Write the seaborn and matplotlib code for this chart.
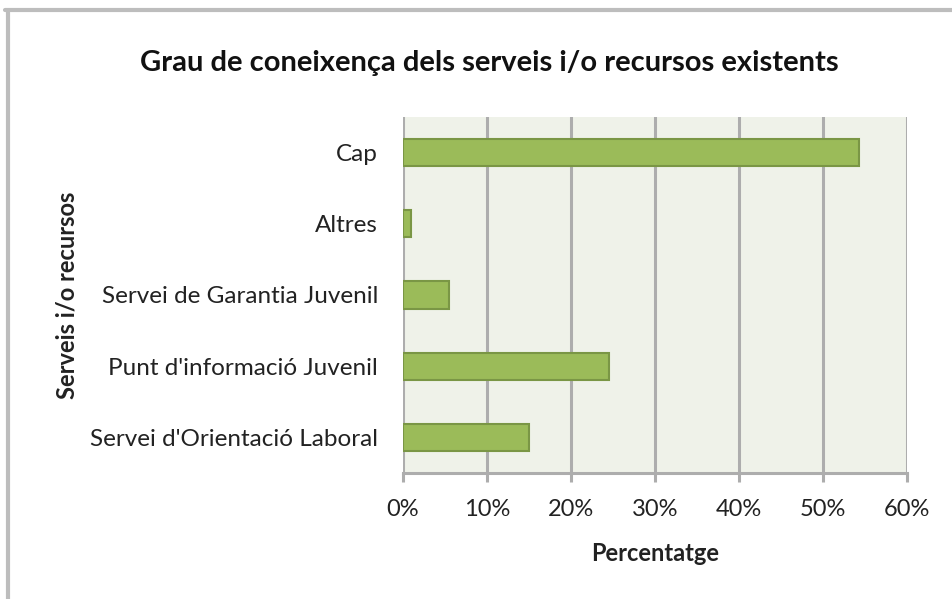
import pandas as pd
import numpy as np
import seaborn as sns
import matplotlib.pyplot as plt
from matplotlib.lines import Line2D
from matplotlib.ticker import PercentFormatter

# data (percent)
categories = [
    'Cap',
    'Altres',
    'Servei de Garantia Juvenil',
    "Punt d'informació Juvenil",
    "Servei d'Orientació Laboral",
]
values = [54.3, 1.0, 5.5, 24.5, 15.0]

df = pd.DataFrame({'servei': categories, 'pct': values})

sns.set_theme(style='white')
plt.rcParams['font.family'] = ['Lato', 'DejaVu Sans']

fig = plt.figure(figsize=(9.52, 5.99), dpi=100)
ax = fig.add_axes([403/952, 1-473/599, (907-403)/952, (473-117)/599])

sns.barplot(data=df, x='pct', y='servei', orient='h', order=categories,
            color='#9BBB59', edgecolor='#7A9645', linewidth=1.5,
            width=0.38, saturation=1, ax=ax)

ax.set_facecolor('#EFF2E9')
ax.set_xlim(0, 60)
ax.set_xticks(np.arange(0, 61, 10))
ax.xaxis.set_major_formatter(PercentFormatter(decimals=0))
ax.set_axisbelow(True)
ax.xaxis.grid(True, color='#ADADAD', linewidth=2.2)
ax.yaxis.grid(False)

for s in ['top', 'right', 'left']:
    ax.spines[s].set_visible(False)
ax.spines['bottom'].set_color('#ADADAD')
ax.spines['bottom'].set_linewidth(2.2)

ax.tick_params(axis='x', direction='out', length=6.5, width=2.2, color='#ADADAD',
               pad=12, labelsize=17, labelcolor='#222222', bottom=True)
ax.tick_params(axis='y', length=0, pad=18, labelsize=17.5, labelcolor='#222222')

ax.set_xlabel('Percentatge', fontsize=17, fontweight='bold', color='#222222', labelpad=16)
ax.set_ylabel('Serveis i/o recursos', fontsize=17, fontweight='bold', color='#222222', labelpad=8)

fig.text(489/952, 1-63/599, 'Grau de coneixença dels serveis i/o recursos existents',
         ha='center', va='center', fontsize=21, fontweight='bold', color='#111111')

# outer chart frame (top and left edges only are visible)
fig.add_artist(Line2D([5/952, 1], [1-10/599, 1-10/599], transform=fig.transFigure,
                      color='#BDBDBD', linewidth=3))
fig.add_artist(Line2D([8/952, 8/952], [0, 1-10/599], transform=fig.transFigure,
                      color='#BDBDBD', linewidth=3))

plt.savefig('out.png', dpi=100)
